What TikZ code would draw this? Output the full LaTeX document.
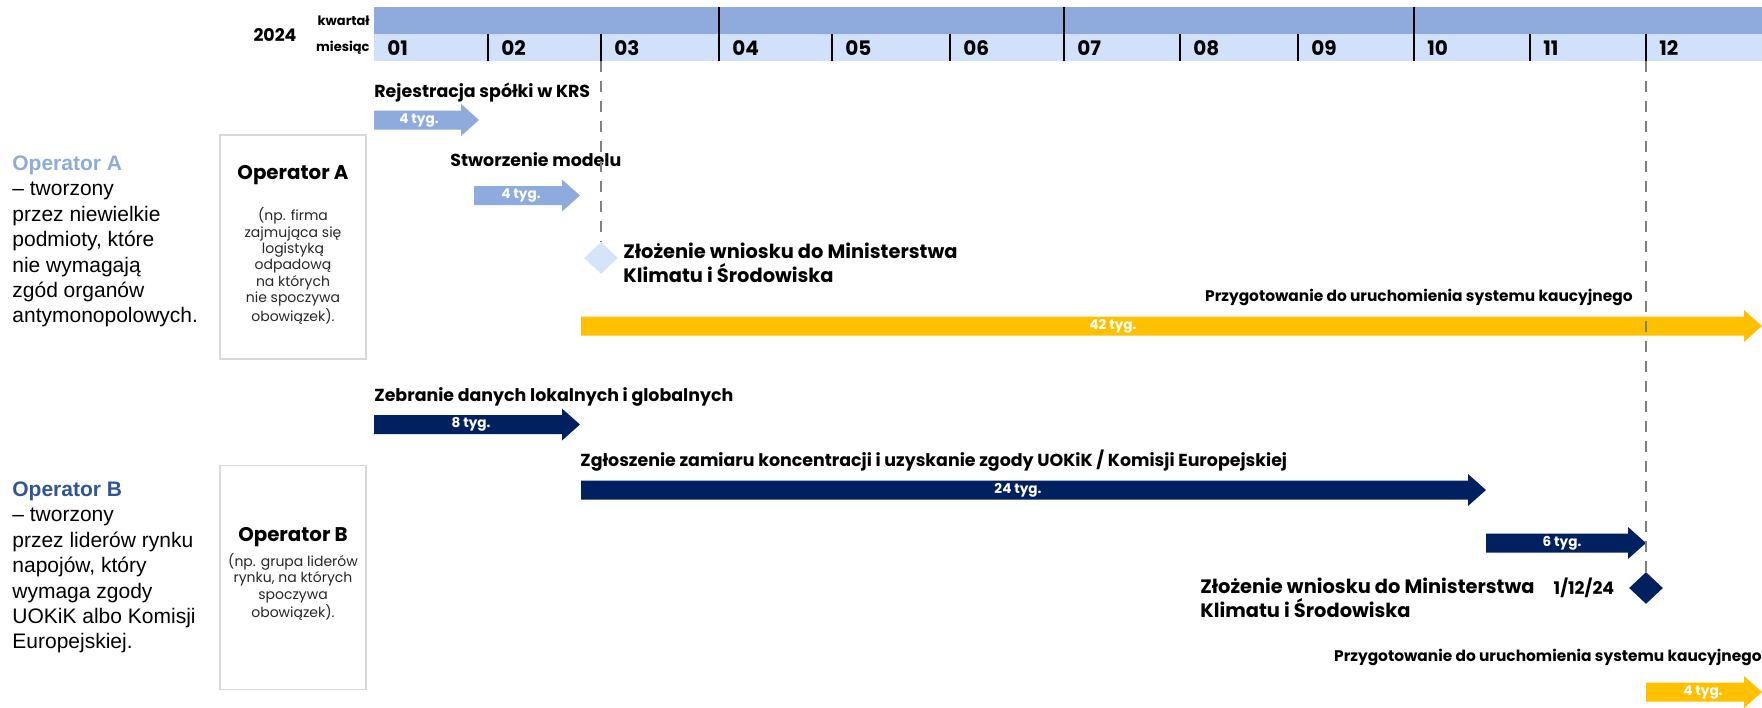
\documentclass[tikz,border=0pt]{standalone}
\usepackage{fontspec}
\setmainfont{Poppins}
\newfontfamily\arialfont{Liberation Sans}
\usepackage{xcolor}
\usepackage{tikz}
\usetikzlibrary{positioning, shapes.geometric}

\definecolor{quarterblue}{HTML}{8FAADC}
\definecolor{monthblue}{HTML}{D2E1FA}
\definecolor{opablue}{HTML}{8FAADC}
\definecolor{opbblue}{HTML}{2F5597}
\definecolor{navy}{HTML}{002060}
\definecolor{amber}{HTML}{FFC000}
\definecolor{paleblue}{HTML}{D6E4FA}
\definecolor{boxgrey}{HTML}{D9D9D9}
\definecolor{dashgrey}{HTML}{808080}

\begin{document}
\begin{tikzpicture}[
        x=0.5pt, y=-0.5pt,
        headlabel/.style={inner sep=0pt, font=\bfseries\fontsize{6.5}{8}\selectfont},
        monthlabel/.style={anchor=west, inner sep=0pt, font=\bfseries\fontsize{10}{12}\selectfont},
        tasklabel/.style={anchor=west, inner sep=0pt, font=\bfseries\fontsize{8.7}{10}\selectfont},
        preplabel/.style={anchor=east, inner sep=0pt, font=\bfseries\fontsize{7.7}{9}\selectfont},
        milestonelabel/.style={anchor=west, align=left, inner sep=0pt, font=\bfseries\fontsize{9.7}{12}\selectfont},
        weeks/.style={text=white, inner sep=0pt, font=\bfseries\fontsize{6.8}{8}\selectfont},
        milestone/.style={diamond, inner sep=0pt, minimum width=17pt, minimum height=16pt},
        milestoneline/.style={draw=dashgrey, line width=0.8pt, dash pattern=on 5.5pt off 4.5pt},
        opbox/.style={rectangle, draw=boxgrey, line width=0.7pt, minimum width=73pt, minimum height=112pt},
        boxtitle/.style={inner sep=0pt, font=\bfseries\fontsize{9.9}{12}\selectfont},
        boxnote/.style={align=center, inner sep=0pt, text=black!85, font=\fontsize{7}{8.15}\selectfont},
        sidenote/.style={anchor=west, align=left, inner sep=0pt, font=\arialfont\fontsize{10.5}{12.7}\selectfont}
        ]
        \useasboundingbox (0,0) rectangle (1762,707);

        % Header: quarters and months
        \fill[quarterblue] (374,7) rectangle (1762,34);
        \fill[monthblue] (374,34) rectangle (1762,61);
        \foreach \x in {488,601,832,950,1180,1298,1530,1646}
            \draw[line width=0.8pt] (\x,34) -- (\x,61);
        \foreach \x in {719,1064,1414}
            \draw[line width=0.8pt] (\x,7) -- (\x,61);
        \foreach \x/\m in {374/01,488/02,601/03,719/04,832/05,950/06,1064/07,1180/08,1298/09,1414/10,1530/11,1646/12}
            \node[monthlabel] (m\m) at (\x+13,48) {\m};
        \node[headlabel, anchor=east] (quarter) at (370,20.5) {kwartał};
        \node[headlabel, anchor=east] (month) at (370,47.5) {miesiąc};
        \node[headlabel, font=\bfseries\fontsize{8.7}{10}\selectfont] (year) at (275,35) {2024};

        % Operators
        \node[sidenote] (descA) at (12,241.5) {\textcolor{opablue}{\bfseries Operator A}\\– tworzony\\przez niewielkie\\podmioty, które\\nie wymagają\\zgód organów\\antymonopolowych.};
        \node[sidenote] (descB) at (12,567.5) {\textcolor{opbblue}{\bfseries Operator B}\\– tworzony\\przez liderów rynku\\napojów, który\\wymaga zgody\\UOKiK albo Komisji\\Europejskiej.};

        \node[opbox] (boxA) at (293,247) {};
        \node[boxtitle] (titleA) at (293,175) {Operator A};
        \node[boxnote] (noteA) at (293,266) {(np. firma\\zajmująca się\\logistyką\\odpadową\\na których\\nie spoczywa\\obowiązek).};
        \node[opbox] (boxB) at (293,577.5) {};
        \node[boxtitle] (titleB) at (293,537) {Operator B};
        \node[boxnote] (noteB) at (293,587) {(np. grupa liderów\\rynku, na których\\spoczywa\\obowiązek).};

        % Task bars
        \foreach \name/\xa/\xb/\yy/\col/\wx/\wk in {
                barA1/374/479/120/quarterblue/419/4 tyg.,
                barA2/474/580/195.5/quarterblue/521/4 tyg.,
                barA3/581/1762/326/amber/1113/42 tyg.,
                barB1/374/580/424.5/navy/471/8 tyg.,
                barB2/581/1486/490/navy/1018/24 tyg.,
                barB3/1486/1646/543/navy/1562/6 tyg.,
                barB4/1646/1762/692/amber/1703/4 tyg.}{
            \fill[\col] (\xa,\yy-9.5) -- (\xb-18,\yy-9.5) -- (\xb-18,\yy-16) -- (\xb,\yy)
                -- (\xb-18,\yy+16) -- (\xb-18,\yy+9.5) -- (\xa,\yy+9.5) -- cycle;
            \node[weeks] (\name) at (\wx,\yy) {\wk};
        }

        \node[tasklabel] (taskA1) at (374,93) {Rejestracja spółki w KRS};
        \node[tasklabel] (taskA2) at (450,160) {Stworzenie modelu};
        \node[preplabel] (taskA3) at (1633,297) {Przygotowanie do uruchomienia systemu kaucyjnego};
        \node[tasklabel] (taskB1) at (374,397) {Zebranie danych lokalnych i globalnych};
        \node[tasklabel] (taskB2) at (580,461) {Zgłoszenie zamiaru koncentracji i uzyskanie zgody UOKiK / Komisji Europejskiej};
        \node[preplabel] (taskB4) at (1762,657) {Przygotowanie do uruchomienia systemu kaucyjnego};

        % Milestones
        \node[milestone, fill=paleblue] (msA) at (601,258) {};
        \node[milestone, fill=navy] (msB) at (1646,588) {};
        \node[milestonelabel] (msAtext) at (623,263) {Złożenie wniosku do Ministerstwa\\Klimatu i Środowiska};
        \node[milestonelabel] (msBtext) at (1200,598) {Złożenie wniosku do Ministerstwa\\Klimatu i Środowiska};
        \node[tasklabel, anchor=east, left=7pt of msB] (msBdate) {1/12/24};

        \coordinate (topA) at (601,61);
        \coordinate (topB) at (1646,61);
        \draw[milestoneline] (topA) -- (msA.north);
        \draw[milestoneline] (topB) -- (msB.north);
\end{tikzpicture}
\end{document}
